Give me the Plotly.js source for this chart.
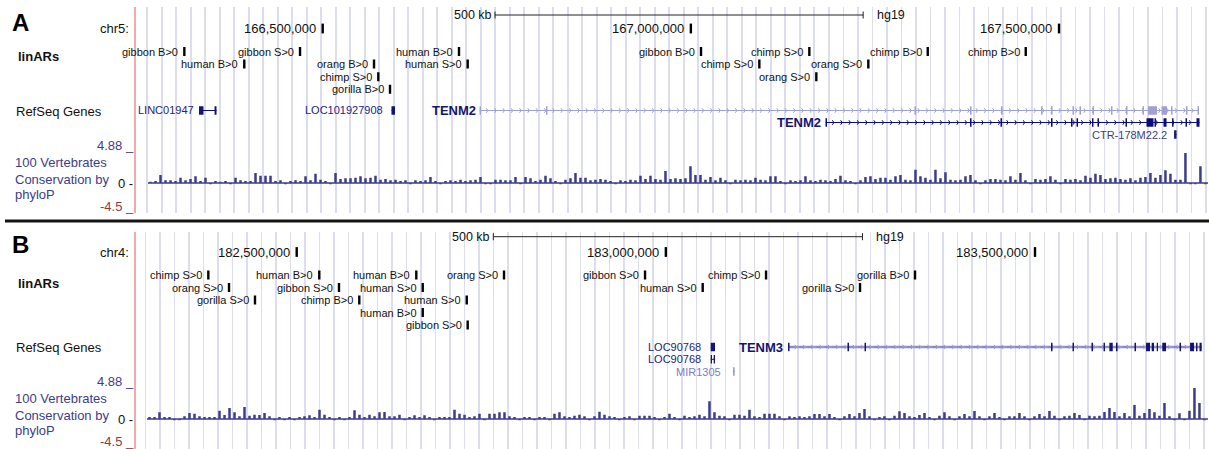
<!DOCTYPE html>
<html><head><meta charset="utf-8">
<script src="https://cdn.plot.ly/plotly-3.0.1.min.js"></script>
<style>html,body{margin:0;padding:0;background:#fff;}#chart{width:1209px;height:449px;}</style>
</head><body><div id="chart"></div>
<script>
// ================= DATA =================
const assembly = "hg19";
const scaleBarLabel = "500 kb";
const scaleBarLength = 500000;

// ---- Panel A (chr5) ----
const chromA = "chr5:";
const viewA = [166245085, 167702326];
const scaleBarStartA = 166734000;
const positionTicksA = [166500000, 167000000, 167500000];

const linarLabelsA = ["gibbon B>0","human B>0","gibbon S>0","orang B>0","chimp S>0","gorilla B>0","human B>0","human S>0","gibbon B>0","chimp S>0","chimp S>0","orang S>0","orang S>0","chimp B>0","chimp B>0"];
const linarPosA = [166312100,166393500,166469200,166569700,166575500,166591400,166685100,166696900,167013800,167093000,167160900,167170400,167241000,167321700,167454800];
const linarRowA = [1,2,1,2,3,4,1,2,1,2,1,3,2,1,1];

const geneNamesA = ["LINC01947","LOC101927908","TENM2","TENM2","CTR-178M22.2"];
const geneKindA = ["nc","nc","codingAlt","coding","clone"];
const geneRowA = [1,1,1,2,3];
const geneStrandA = ["","","+","+",""];
const geneStartA = [166332000,166593400,166713000,167182900,167656200];
const geneEndA = [166355800,166598200,167690100,167690800,167659600];
const geneExonsA = [
  [[166332000,166338100],[166353100,166355800]],
  [[166593400,166598200]],
  [[166713000,166715000],[166803300,166805300],[167303700,167305800],[167379100,167381200],[167421200,167423300],[167475500,167477600],[167489100,167491200],[167518300,167520400],[167527800,167529900],[167545500,167547500],[167570600,167572600],[167591000,167593000],[167613400,167615400],[167620900,167633100],[167639200,167646700],[167652100,167654100],[167672500,167674500],[167688100,167690100]],
  [[167182900,167184900],[167379100,167381200],[167420500,167422600],[167489100,167491200],[167516300,167518300],[167523800,167525800],[167544800,167546800],[167552300,167554300],[167590300,167592300],[167618800,167628300],[167629700,167631700],[167641900,167646000],[167653500,167655500],[167671800,167673800],[167686700,167690800]],
  [[167656200,167659600]]
];

// phyloP 100-vertebrate conservation, one value per bin
const consStartA = 166262760;
const consBinA = 6790;
const consA = [
 0.2,0.3,1.2,0.4,0.4,0.3,0.8,0.4,0.6,1.0,
 0.3,0.8,-0.2,0.3,0.2,0.3,-0.2,0.8,0.4,0.3,
 0.3,1.5,1.1,1.1,1.1,0.3,0.4,-0.2,0.3,0.4,
 0.3,1.0,0.4,1.4,0.5,0.3,-0.2,1.5,0.6,0.7,
 0.7,0.8,1.0,0.7,0.8,1.1,0.5,0.6,0.4,0.5,
 0.3,0.4,-0.2,0.4,0.3,0.4,0.9,0.3,-0.2,0.3,
 0.4,0.3,0.5,0.3,0.4,0.5,0.9,-0.2,-0.2,0.5,
 0.5,0.4,0.4,0.9,-0.2,0.9,0.7,0.3,0.5,1.1,
 0.7,0.3,-0.2,0.5,0.7,1.5,0.8,0.8,0.4,0.5,
 0.6,0.5,0.3,-0.2,0.4,0.3,0.5,0.4,1.1,0.6,
 1.1,0.6,0.5,1.8,0.6,0.7,0.6,0.7,2.5,1.2,
 1.2,0.5,0.9,0.4,0.8,0.4,-0.2,0.5,0.4,0.5,
 0.4,0.8,0.5,0.4,1.0,1.0,0.3,-0.2,0.4,0.3,
 0.4,1.0,0.4,0.3,0.5,0.4,0.3,0.6,1.1,0.4,
 0.3,-0.2,0.4,0.9,1.0,0.6,0.8,0.8,0.5,1.0,
 1.2,0.5,0.4,2.0,1.0,0.8,0.5,2.0,0.7,1.6,
 0.5,0.4,0.5,1.0,1.2,0.4,-0.2,0.4,0.6,0.6,
 0.5,0.4,1.0,0.5,1.5,0.4,-0.2,0.6,0.5,0.6,
 1.0,0.5,-0.2,0.6,0.5,0.6,0.4,1.1,0.8,1.4,
 1.2,0.6,0.7,0.8,0.6,0.5,0.7,0.4,0.8,0.9,
 1.5,0.8,1.2,1.9,1.4,0.5,0.5,4.5,-0.2,-0.2,2.5,-0.2
];

// ---- Panel B (chr4) ----
const chromB = "chr4:";
const viewB = [182280984, 183734320];
const scaleBarStartB = 182766300;
const positionTicksB = [182500000, 183000000, 183500000];

const linarLabelsB = ["chimp S>0","orang S>0","gorilla S>0","human B>0","gibbon S>0","chimp B>0","human B>0","human S>0","human S>0","human B>0","gibbon S>0","orang S>0","gibbon S>0","human S>0","chimp S>0","gorilla S>0","gorilla B>0"];
const linarPosB = [182380300,182408300,182443500,182530600,182557300,182584800,182662000,182670700,182730300,182670700,182731600,182780800,182971800,183049900,183135700,183263000,183337500];
const linarRowB = [1,2,3,1,2,3,1,2,3,4,5,1,1,2,1,2,1];

const geneNamesB = ["LOC90768","LOC90768","MIR1305","TENM3"];
const geneKindB = ["nc","nc","mirna","codingPacked"];
const geneRowB = [1,2,3,1];
const geneStrandB = ["","","","+"];
const geneStartB = [183060800,183060800,183091400,183165500];
const geneEndB = [183066600,183066600,183093000,183725800];
const geneExonsB = [
  [[183060800,183066600]],
  [[183060800,183062500],[183064800,183066600]],
  [[183091400,183093000]],
  [[183165500,183167500],[183246000,183248100],[183269100,183271100],[183521700,183523700],[183550800,183552800],[183576500,183578600],[183592800,183594800],[183600700,183605300],[183609700,183611800],[183634800,183636800],[183650400,183655800],[183658100,183661200],[183664900,183666600],[183672400,183677500],[183695700,183697800],[183710000,183715400],[183718100,183720100],[183722800,183725800]]
];

const consStartB = 182297250;
const consBinB = 6772;
const consB = [
 0.3,0.3,1.0,0.3,0.3,-0.2,-0.2,0.4,0.9,0.8,
 0.4,0.3,0.3,0.3,1.25,0.6,1.65,1.0,0.4,1.8,
 0.5,0.65,0.6,0.9,0.4,-0.2,0.3,-0.2,0.3,-0.2,
 0.3,0.4,0.55,0.3,1.4,0.65,0.3,-0.2,0.3,-0.2,
 0.3,1.3,0.65,0.3,0.65,0.4,1.0,1.05,0.4,0.4,
 0.65,-0.2,0.3,0.55,0.3,0.55,0.3,-0.2,0.3,0.3,
 0.3,1.4,0.8,0.65,0.3,0.4,0.8,-0.2,0.8,0.8,
 1.0,1.0,0.4,0.3,-0.2,0.3,0.3,-0.2,0.3,0.3,
 -0.2,0.8,1.0,0.4,0.3,0.5,0.65,0.4,-0.2,0.4,
 1.1,0.65,0.4,0.3,-0.2,0.3,0.4,-0.2,0.5,0.5,
 0.5,0.3,-0.2,0.3,0.8,0.3,-0.2,0.5,0.3,0.4,
 0.65,0.4,2.65,1.0,0.5,0.4,-0.2,0.65,0.65,0.5,
 1.4,0.4,0.3,0.8,0.8,0.8,0.4,-0.2,0.4,0.3,
 0.4,0.3,0.4,0.75,0.75,0.4,0.75,0.3,-0.2,0.4,
 0.75,0.4,0.9,1.5,0.4,-0.2,0.3,0.4,-0.2,0.5,
 1.15,0.9,0.4,0.3,0.6,0.9,0.3,-0.2,0.5,1.0,
 0.4,-0.2,0.4,0.75,0.4,1.2,0.4,-0.2,0.4,0.9,
 0.3,-0.2,0.4,0.4,0.9,0.4,-0.2,0.4,0.75,0.4,
 1.2,0.5,-0.2,0.4,0.5,0.9,0.6,-0.2,0.5,0.4,
 0.5,1.05,1.65,1.05,0.4,0.9,0.4,2.1,0.5,0.9,
 1.5,1.0,0.5,2.4,0.4,-0.2,0.85,-0.2,1.25,4.65,2.4,-0.2
];
const consMax = 4.88, consMin = -4.5;

// ================= LAYOUT / STYLE =================
const W = 1209, H = 449;
const FONT = "Liberation Sans, Arial, Helvetica, sans-serif";
const X_L = 135, X_R = 1208;
const GRID_COLOR = "rgb(221,221,240)";
const POS_COL = "rgb(60,60,140)", NEG_COL = "rgb(140,60,60)";
const CHEV_PX = 8.3, EXON_H = 8.5;
const GENE_STYLE = {
  coding:      {line:"rgb(12,12,120)", lw:1, exon:"rgb(12,12,120)", chev:"rgb(12,12,120)", lab:"rgb(20,20,110)", size:13, bold:true},
  codingAlt:   {line:"rgb(160,160,212)", lw:1, exon:"rgb(160,160,212)", chev:"rgb(160,160,212)", lab:"rgb(20,20,110)", size:13, bold:true},
  codingPacked:{line:"rgb(140,140,195)", lw:2.5, exon:"rgb(20,20,110)", chev:"rgb(160,160,210)", lab:"rgb(20,20,110)", size:13, bold:true},
  nc:          {line:"rgb(12,12,120)", lw:1, exon:"rgb(20,20,120)", chev:"rgb(12,12,120)", lab:"rgb(35,35,125)", size:11, bold:false},
  clone:       {line:"rgb(40,40,120)", lw:1, exon:"rgb(30,30,110)", chev:"rgb(40,40,120)", lab:"rgb(60,60,130)", size:11, bold:false},
  mirna:       {line:"rgb(120,120,190)", lw:1, exon:"rgb(120,120,190)", chev:"rgb(120,120,190)", lab:"rgb(125,125,195)", size:11, bold:false}
};
const px = v => v / W;
const py = v => 1 - v / H;
const dom = (top, bottom) => [1 - bottom / H, 1 - top / H];

const traces = [], annotations = [], shapes = [];

function addText(text, x, y, xref, yref, opts) {
  annotations.push(Object.assign({text, x, y, xref, yref, showarrow:false, borderpad:0,
    xanchor:'right', yanchor:'middle', font:{family:FONT, size:11, color:'#000'}}, opts || {}));
}

function buildPanel(p) {
  const bpPerPx = (p.view[1] - p.view[0]) / (X_R - X_L);
  // scale bar
  const sb = [p.sbStart, p.sbStart + scaleBarLength];
  traces.push({type:'scatter', mode:'lines', x:sb, y:[p.sbY,p.sbY], xaxis:p.x, yaxis:p.fy, line:{color:'#222', width:1}});
  traces.push({type:'scatter', mode:'markers', x:sb, y:[p.sbY,p.sbY], xaxis:p.x, yaxis:p.fy, marker:{symbol:'line-ns', size:5, line:{color:'#222', width:1}}});
  addText(scaleBarLabel, sb[0], p.sbY, p.x, p.fy, {xshift:-2, font:{family:FONT,size:12.5,color:'#111'}});
  addText(assembly, sb[1], p.sbY, p.x, p.fy, {xanchor:'left', xshift:13, font:{family:FONT,size:12.5,color:'#111'}});
  // position ticks
  traces.push({type:'scatter', mode:'markers', x:p.ticks, y:p.ticks.map(()=>p.tickY), xaxis:p.x, yaxis:p.fy,
    marker:{symbol:'line-ns', size:7, line:{color:'#000', width:2.4}}});
  p.ticks.forEach(t => addText(t.toLocaleString('en-US'), t, p.tickY + 0.5, p.x, p.fy, {xshift:-6, font:{family:FONT,size:13,color:'#111'}}));
  addText(p.chrom, px(130), py(p.tickY + 0.5), 'paper', 'paper', {font:{family:FONT,size:13,color:'#111'}});
  // linARs
  traces.push({type:'scatter', mode:'markers', x:p.linPos, y:p.linRow, xaxis:p.x, yaxis:p.ly,
    marker:{symbol:'line-ns', size:6.4, line:{color:'#000', width:2.4}}});
  p.linLab.forEach((l,i) => addText(l, p.linPos[i], p.linRow[i], p.x, p.ly, {xshift:-5, font:{family:FONT,size:11,color:'#111'}}));
  // genes
  p.gNames.forEach((nm,i) => {
    const st = GENE_STYLE[p.gKind[i]];
    const r = p.gRow[i];
    traces.push({type:'scatter', mode:'lines', x:[p.gStart[i], p.gEnd[i]], y:[r,r], xaxis:p.x, yaxis:p.gy, line:{color:st.line, width:st.lw}});
    if (p.gStrand[i]) {
      const sp = CHEV_PX * bpPerPx, cx = [];
      for (let x = p.gStart[i] + sp; x < p.gEnd[i] - sp * 0.5; x += sp) cx.push(x);
      traces.push({type:'scatter', mode:'markers', x:cx, y:cx.map(()=>r), xaxis:p.x, yaxis:p.gy,
        marker:{symbol: p.gStrand[i] === '+' ? 'y-right' : 'y-left', size:3.8, color:st.chev, line:{color:st.chev, width:1}}});
    }
    const ex = [], ey = [];
    p.gExons[i].forEach(([s,e]) => { ex.push(s, e, null); ey.push(r, r, null); });
    traces.push({type:'scatter', mode:'lines', x:ex, y:ey, xaxis:p.x, yaxis:p.gy, connectgaps:false, line:{color:st.exon, width:EXON_H}});
    addText(st.bold ? '<b>' + nm + '</b>' : nm, p.gStart[i], r, p.x, p.gy,
      {xshift:-p.gGap[i], font:{family:FONT, size:st.size, color:st.lab}});
  });
  // conservation: zero baseline, then per-bin bars
  const cEnd = p.view[1];
  traces.push({type:'scatter', mode:'lines', x:[p.cStart, cEnd], y:[0,0], xaxis:p.x, yaxis:p.cy, line:{color:POS_COL, width:1.4}});
  const cx = p.cons.map((v,i) => p.cStart + (i + 0.5) * p.cBin);
  traces.push({type:'bar', x:cx, y:p.cons, width:p.cBin * 0.5, xaxis:p.x, yaxis:p.cy,
    marker:{color:p.cons.map(v => v >= 0 ? POS_COL : NEG_COL), line:{width:0}}});
  // track labels
  addText('<b>linARs</b>', px(16.5), py(p.linLabelY), 'paper', 'paper', {xanchor:'left', font:{family:FONT,size:13,color:'#111'}});
  addText('RefSeq Genes', px(15), py(p.geneLabelY), 'paper', 'paper', {xanchor:'left', font:{family:FONT,size:13,color:'#111'}});
  ['100 Vertebrates','Conservation by','phyloP'].forEach((t,k) =>
    addText(t, px(14), py(p.consLabelY[k]), 'paper', 'paper', {xanchor:'left', font:{family:FONT,size:13,color:POS_COL}}));
  addText(consMax + ' _', px(134.5), py(p.consTickY[0]), 'paper', 'paper', {font:{family:FONT,size:13,color:POS_COL}});
  addText('0 -', px(134), py(p.consTickY[1]), 'paper', 'paper', {font:{family:FONT,size:13,color:'#111'}});
  addText(consMin + ' _', px(134.5), py(p.consTickY[2]), 'paper', 'paper', {font:{family:FONT,size:13,color:NEG_COL}});
  // panel letter
  addText('<b>' + p.letter + '</b>', px(11), py(p.letterY), 'paper', 'paper', {xanchor:'left', font:{family:FONT,size:24,color:'#000'}});
  // red left border
  shapes.push({type:'line', xref:'paper', yref:'paper', x0:px(X_L), x1:px(X_L), y0:py(p.frame[1]), y1:py(p.frame[0]), line:{color:'rgb(240,155,155)', width:1.7}});
}

buildPanel({letter:'A', letterY:22, x:'x', fy:'y', ly:'y2', gy:'y3', cy:'y4', view:viewA, frame:[7,213],
  sbStart:scaleBarStartA, sbY:15, ticks:positionTicksA, tickY:28.5, chrom:chromA,
  linPos:linarPosA, linRow:linarRowA, linLab:linarLabelsA,
  gNames:geneNamesA, gKind:geneKindA, gRow:geneRowA, gStrand:geneStrandA, gStart:geneStartA, gEnd:geneEndA, gExons:geneExonsA, gGap:[4,7.5,3,4,6],
  cons:consA, cStart:consStartA, cBin:consBinA,
  linLabelY:57, geneLabelY:111, consLabelY:[162.7,179,194.3], consTickY:[145.7,183.3,206]});

buildPanel({letter:'B', letterY:244, x:'x2', fy:'y5', ly:'y6', gy:'y7', cy:'y8', view:viewB, frame:[232,449],
  sbStart:scaleBarStartB, sbY:236.7, ticks:positionTicksB, tickY:252, chrom:chromB,
  linPos:linarPosB, linRow:linarRowB, linLab:linarLabelsB,
  gNames:geneNamesB, gKind:geneKindB, gRow:geneRowB, gStrand:geneStrandB, gStart:geneStartB, gEnd:geneEndB, gExons:geneExonsB, gGap:[9,9,11,4],
  cons:consB, cStart:consStartB, cBin:consBinB,
  linLabelY:283.3, geneLabelY:347.3, consLabelY:[398.7,415,430.3], consTickY:[381.7,419.3,441.7]});

// separator between panels
shapes.push({type:'line', xref:'paper', yref:'paper', x0:px(5), x1:1, y0:py(221), y1:py(221), line:{color:'#151515', width:3}});

traces.forEach(t => { t.hoverinfo = 'skip'; t.showlegend = false; });

const xBase = {domain:[px(X_L), px(X_R)], showgrid:true, gridcolor:GRID_COLOR, gridwidth:1.8, tickmode:'linear',
  showticklabels:false, ticks:'', zeroline:false, showline:false, fixedrange:true};
const yHidden = (d, r, anchor) => ({domain:d, range:r, anchor, visible:false, showgrid:false, zeroline:false, fixedrange:true});

const layout = {
  width:W, height:H, margin:{l:0,r:0,t:0,b:0}, paper_bgcolor:'#fff', plot_bgcolor:'rgba(0,0,0,0)',
  showlegend:false, font:{family:FONT},
  xaxis: Object.assign({}, xBase, {range:viewA, anchor:'y', tick0:166281360, dtick:19698}),
  xaxis2: Object.assign({}, xBase, {range:viewB, anchor:'y5', tick0:182314860, dtick:19640}),
  yaxis:  yHidden(dom(7,213), [213,7], 'x'),
  yaxis2: yHidden(dom(45.2,95.6), [4.5,0.5], 'x'),
  yaxis3: yHidden(dom(104.5,140.5), [3.5,0.5], 'x'),
  yaxis4: yHidden(dom(150.5,213), [consMin,consMax], 'x'),
  yaxis5: yHidden(dom(232,449), [449,232], 'x2'),
  yaxis6: yHidden(dom(268.75,331.25), [5.5,0.5], 'x2'),
  yaxis7: yHidden(dom(340.85,377.75), [3.5,0.5], 'x2'),
  yaxis8: yHidden(dom(386.5,449), [consMin,consMax], 'x2'),
  annotations, shapes
};

Plotly.newPlot('chart', traces, layout, {staticPlot:true, displayModeBar:false});
</script></body></html>
